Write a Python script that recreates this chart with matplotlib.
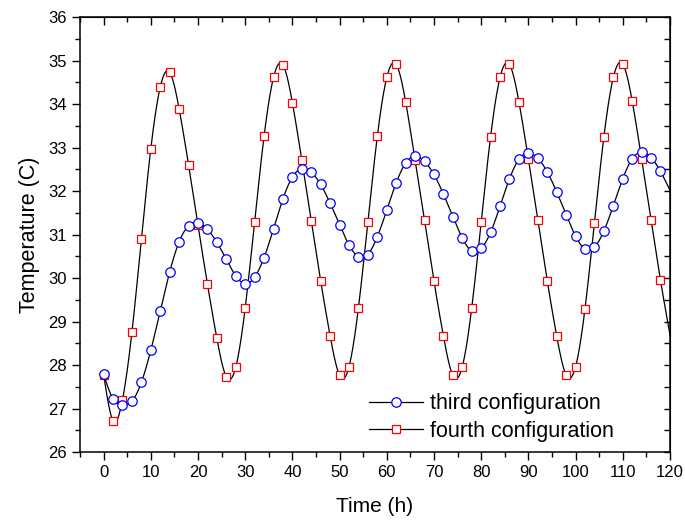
import numpy as np
import matplotlib
matplotlib.use("Agg")
import matplotlib.pyplot as plt

plt.rcParams["font.family"] = ["Liberation Sans", "DejaVu Sans"]

# time in hours, one reading every 2 h
time_h = list(range(0, 122, 2))

third = [27.79, 27.22, 27.08, 27.17, 27.60, 28.34, 29.24, 30.14, 30.83, 31.20,
         31.27, 31.12, 30.82, 30.43, 30.05, 29.87, 30.02, 30.47, 31.13, 31.82,
         32.32, 32.51, 32.43, 32.15, 31.72, 31.23, 30.76, 30.49, 30.54, 30.95,
         31.56, 32.19, 32.64, 32.80, 32.68, 32.38, 31.93, 31.41, 30.92, 30.62,
         30.68, 31.05, 31.65, 32.28, 32.73, 32.87, 32.75, 32.44, 31.98, 31.46,
         30.96, 30.67, 30.71, 31.08, 31.66, 32.28, 32.74, 32.89, 32.77, 32.45,
         32.02]

fourth = [27.78, 26.72, 27.20, 28.75, 30.89, 32.97, 34.39, 34.73, 33.89, 32.60,
          31.21, 29.86, 28.61, 27.73, 27.95, 29.31, 31.29, 33.26, 34.61, 34.90,
          34.03, 32.71, 31.32, 29.93, 28.67, 27.76, 27.96, 29.32, 31.29, 33.26,
          34.61, 34.91, 34.05, 32.71, 31.33, 29.93, 28.67, 27.76, 27.96, 29.31,
          31.28, 33.25, 34.61, 34.91, 34.05, 32.74, 31.34, 29.94, 28.67, 27.77,
          27.96, 29.29, 31.27, 33.24, 34.61, 34.92, 34.07, 32.74, 31.34, 29.95,
          28.70]

labels = ["third configuration", "fourth configuration"]


def spline(x, y, per=20):
    # natural cubic spline, used only to draw the connecting line smoothly
    x = np.asarray(x, float)
    y = np.asarray(y, float)
    n = len(x)
    h = np.diff(x)
    A = np.zeros((n, n))
    r = np.zeros(n)
    A[0, 0] = A[-1, -1] = 1
    for i in range(1, n - 1):
        A[i, i - 1] = h[i - 1]
        A[i, i] = 2 * (h[i - 1] + h[i])
        A[i, i + 1] = h[i]
        r[i] = 6 * ((y[i + 1] - y[i]) / h[i] - (y[i] - y[i - 1]) / h[i - 1])
    M = np.linalg.solve(A, r)
    xs, ys = [], []
    for i in range(n - 1):
        t = np.linspace(x[i], x[i + 1], per, endpoint=False)
        a = x[i + 1] - t
        b = t - x[i]
        s = (M[i] * a**3 + M[i + 1] * b**3) / (6 * h[i]) \
            + (y[i] / h[i] - M[i] * h[i] / 6) * a \
            + (y[i + 1] / h[i] - M[i + 1] * h[i] / 6) * b
        xs.extend(t)
        ys.extend(s)
    xs.append(x[-1])
    ys.append(y[-1])
    return np.array(xs), np.array(ys)


fig = plt.figure(figsize=(6.85, 5.27), dpi=100)
ax = fig.add_axes([0.1168, 0.1423, 0.978 - 0.1168, 0.9677 - 0.1423])

n_mark = len(time_h) - 1  # no marker on the final point at 120 h
for vals, mk, col, ms, z in [(fourth, "s", "#ff0000", 5.6, 2), (third, "o", "#0000ff", 6.8, 3)]:
    sx, sy = spline(time_h, vals)
    ax.plot(sx, sy, color="black", lw=0.9, zorder=z)
    ax.plot(time_h[:n_mark], vals[:n_mark], ls="none", marker=mk, ms=ms,
            mfc="white", mec=col, mew=0.9, zorder=z + 0.5, clip_on=False)

h1 = plt.Line2D([], [], color="black", lw=0.9, marker="o", ms=6.8, mfc="white", mec="#0000ff", mew=0.9)
h2 = plt.Line2D([], [], color="black", lw=0.9, marker="s", ms=5.6, mfc="white", mec="#ff0000", mew=0.9)
ax.legend([h1, h2], labels, loc="lower left", bbox_to_anchor=(0.476, 0.004),
          frameon=False, fontsize=15.5, handlelength=2.5, handletextpad=0.33,
          labelspacing=0.3, borderaxespad=0)

ax.set_xlim(-5, 120)
ax.set_ylim(26, 36)
ax.set_xticks(range(0, 121, 10))
ax.set_xticks(range(-5, 121, 5), minor=True)
ax.set_yticks(range(26, 37))
ax.set_yticks(np.arange(26, 36.01, 0.5), minor=True)
ax.tick_params(which="both", direction="out", labelsize=12, width=1)
ax.tick_params(which="major", length=6)
ax.tick_params(which="minor", length=3.5)
for sp in ax.spines.values():
    sp.set_linewidth(1.1)

top = ax.secondary_xaxis("top")
top.set_xticks(range(0, 121, 10))
top.set_xticks(range(-5, 121, 5), minor=True)
top.tick_params(which="both", direction="in", labeltop=False, width=1)
top.tick_params(which="major", length=6)
top.tick_params(which="minor", length=3.5)
right = ax.secondary_yaxis("right")
right.set_yticks(range(26, 37))
right.set_yticks(np.arange(26, 36.01, 0.5), minor=True)
right.tick_params(which="both", direction="in", labelright=False, width=1, length=4.5)

ax.set_xlabel("Time (h)", fontsize=15, labelpad=12)
ax.set_ylabel("Temperature (C)", fontsize=15.5, labelpad=6)

fig.savefig("out.png", dpi=100)
